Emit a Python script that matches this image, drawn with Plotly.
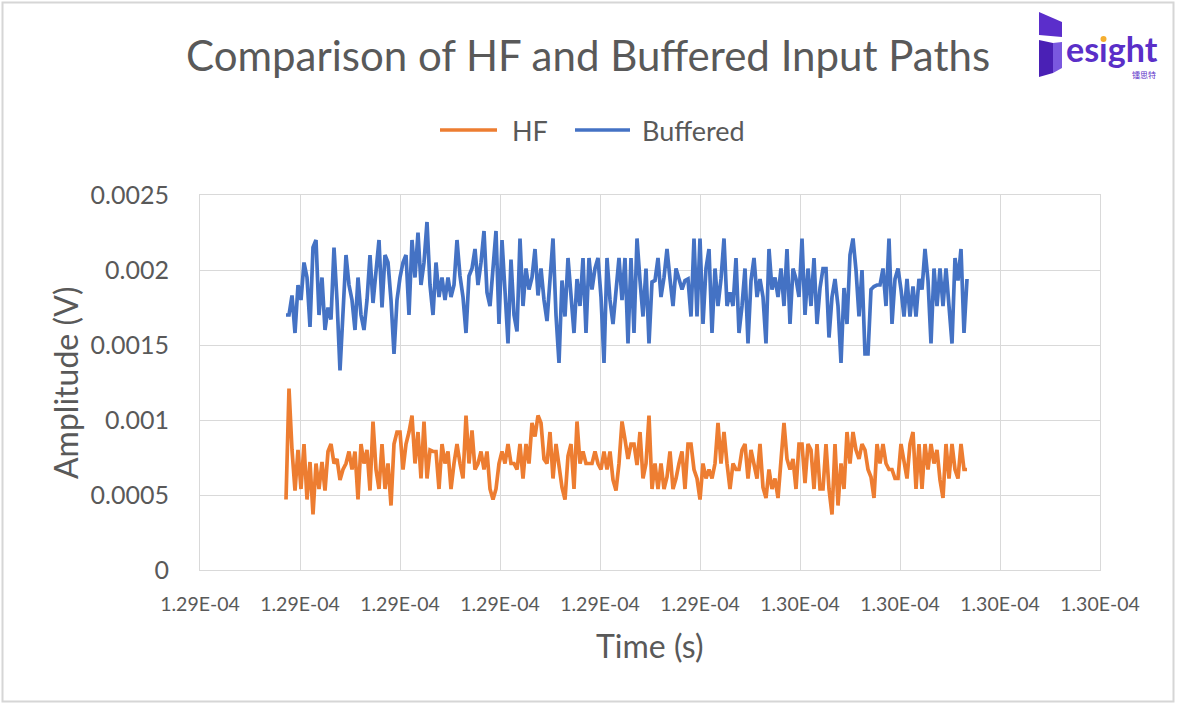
import plotly.graph_objects as go

# ---------------- data ----------------
t_start = 1.28986e-4      # s, first sample
t_step = 3e-9             # s, sample spacing

# amplitudes in units of 0.1 mV
buffered_01mV = [
    17, 17, 18.3, 15.8, 19, 18, 20.5, 19.5, 16.2, 21.5,
    22, 17, 19.5, 16, 17.5, 16.7, 21.5, 18, 13.3, 17,
    21, 19, 18, 16, 19.5, 17, 16, 18, 21, 17.8,
    20, 22, 17.5, 21, 20.5, 18, 14.4, 18, 19.5, 20.5,
    21, 17, 22, 19.5, 22.5, 19, 20.5, 23.2, 19, 17,
    20.5, 18.2, 19.5, 18, 19.5, 18.2, 19,
    22, 19.6, 18.2, 15.8, 19.6, 20.1, 21.4, 19, 20.5, 22.6,
    18.5, 17.6, 20.1, 22.6, 16.4, 22, 18.6, 15.1, 20.7, 17,
    15.9, 22.1, 17.6, 20.1, 18.7, 19.5, 21.4, 18.3, 20.1, 18,
    16.6, 19.5, 22.1, 17, 13.8, 19.3, 16.9, 20.8, 18.4, 15.8,
    19.4, 17.6, 20.8, 15.8, 20.8, 18.7, 20.1, 20.8, 18.2, 13.8,
    20.8, 18, 16.4, 18.7, 20.8, 18,
    20.8, 15.1, 20.8, 15.8, 22.1, 19.3, 16.9, 20.1, 15.1, 19.2,
    19.3, 20.8, 18.2, 19.5, 21.4, 19.4, 17.6, 20.1, 19.3, 18.7,
    19.3, 19.4, 16.9, 22.1, 16.9, 22.1, 16.4, 20.1, 21.4, 15.8,
    20.1, 17.6, 19.4, 22.1, 17.6, 18.5, 17.6, 20.8, 15.8, 17.6,
    20.1, 15.1, 19.3, 20.8, 18.2, 19.4, 18.2, 15.1, 21.4, 18.7,
    19.5, 18.2, 20.1, 17.6, 21.4, 16.4, 20.1,
    19.4, 18.2, 22.1, 17, 20.1, 17.6, 20.8, 16.4, 18.8, 20.1,
    20.1, 15.5, 18.2, 19.4, 17.6, 13.8, 18.8, 16.4, 21, 22.1,
    20, 16.9, 20, 14.4, 14.4, 18.7, 18.9, 19, 19, 20.1,
    17.6, 22.1, 16.4, 19.4, 20.1, 18.7, 16.9, 19.4, 16.9, 18.9,
    16.9, 19.4, 18.7, 21.4, 19.3, 15.1, 20.1, 17.6, 20.1, 17.6,
    20.1, 17.6, 15.1, 20.8, 19.3, 21.4, 15.8, 19.4,
]

hf_01mV = [
    4.7, 12.1, 8, 5.3, 8, 5.4, 8.4, 4.7, 7.2, 3.7,
    7.1, 5.4, 7.2, 5.3, 7.9, 8.4, 7.1, 7.4, 6, 6.7,
    7.1, 7.9, 6.7, 7.9, 4.7, 8.4, 7.1, 8, 5.3, 9.9,
    6.7, 5.4, 8.4, 5.4, 7.1, 4.3, 8.4, 9.2, 9.2, 6.7,
    8.4, 9.2, 10.3, 7.1, 9.2, 6.1, 9.9, 6.1, 8, 7.9,
    7.9, 5.4, 8.4, 7.1, 7.9, 5.4, 7.1,
    8.4, 7.1, 6.1, 10.3, 7.1, 9.3, 6.7, 7.1, 7.9, 6.7,
    7.9, 5.4, 4.7, 5.4, 7.1, 7.9, 7.1, 8.4, 7.1, 7.1,
    6.7, 8.4, 6.1, 8.4, 7.1, 9.8, 8.9, 10.3, 9.8, 7.4,
    7.1, 9.2, 6.1, 8.4, 7.1, 5.5, 4.7, 7.6, 8.4, 5.4,
    9.9, 7.1, 7.9, 7.1, 7.1, 7.1, 7.9, 7.1, 6.7, 7.9,
    6.7, 7.9, 6, 5.3, 7.1, 9.9,
    8.7, 7.4, 8.4, 8.4, 7, 9.2, 6.1, 7.1, 10.3, 5.4,
    7.1, 5.4, 7.1, 5.4, 6.2, 7.9, 5.4, 6.1, 7.1, 7.9,
    5.4, 8.4, 8.4, 6.7, 6.1, 4.7, 7.1, 6.1, 6.7, 6.1,
    7.1, 9.8, 7.1, 9.2, 7.1, 5.4, 7.1, 6.7, 6.7, 8,
    8.4, 6.1, 8, 7.1, 6.1, 8.4, 5.5, 4.8, 6.7, 5.4,
    6.1, 4.8, 7.1, 9.8, 7.4, 6.7, 7.4,
    5.4, 8.4, 8.4, 5.8, 8.4, 8, 5.4, 8.4, 5.4, 5.4,
    8.4, 5.4, 3.7, 8.4, 4.3, 7.1, 5.4, 9.2, 7.1, 9.2,
    8, 7.4, 8.4, 8, 6.7, 6.2, 4.8, 8.4, 7.1, 8.4,
    7.1, 6.7, 6.7, 6.1, 6.1, 8.4, 7.1, 6.1, 8.4, 9.2,
    5.4, 8.4, 5.4, 8.4, 6.7, 8.4, 7.1, 8, 6, 4.8,
    8.4, 6.1, 8.4, 6.7, 6.1, 8.4, 6.7, 6.7,
]

series_names = ["HF", "Buffered"]
x_tick_vals = [1.289e-4, 1.290e-4, 1.291e-4, 1.292e-4, 1.293e-4,
               1.294e-4, 1.295e-4, 1.296e-4, 1.297e-4, 1.298e-4]
x_tick_text = ["1.29E-04", "1.29E-04", "1.29E-04", "1.29E-04", "1.29E-04",
               "1.29E-04", "1.30E-04", "1.30E-04", "1.30E-04", "1.30E-04"]
y_tick_vals = [0, 0.0005, 0.001, 0.0015, 0.002, 0.0025]
y_tick_text = ["0", "0.0005", "0.001", "0.0015", "0.002", "0.0025"]

title_text = "Comparison of HF and Buffered Input Paths"
x_title = "Time (s)"
y_title = "Amplitude (V)"

# ---------------- style ----------------
ORANGE = "#ED7D31"
BLUE = "#4472C4"
GRID = "#D9D9D9"
TXT = "#595959"
FONT = "Lato"
PURPLE = "#5A2FC8"

W, H = 1185, 715
PL, PR, PT, PB = 200, 1100, 195, 570   # plot area in page pixels


def xp(px):
    return (px - PL) / (PR - PL)


def yp(py):
    return (PB - py) / (PB - PT)


hf = [v * 1e-4 for v in hf_01mV]
buf = [v * 1e-4 for v in buffered_01mV]

fig = go.Figure()
fig.add_trace(go.Scatter(x0=t_start, dx=t_step, y=hf, mode="lines", name=series_names[0],
                         line=dict(color=ORANGE, width=3.7), showlegend=False))
fig.add_trace(go.Scatter(x0=t_start, dx=t_step, y=buf, mode="lines", name=series_names[1],
                         line=dict(color=BLUE, width=3.7), showlegend=False))

fig.update_layout(
    width=W, height=H,
    margin=dict(l=PL, r=W - PR, t=PT, b=H - PB, pad=0),
    paper_bgcolor="white", plot_bgcolor="white",
    font=dict(family=FONT, color=TXT),
    showlegend=False,
)
fig.update_xaxes(range=[x_tick_vals[0], x_tick_vals[-1]], tickmode="array",
                 tickvals=x_tick_vals, ticktext=x_tick_text,
                 showgrid=True, gridcolor=GRID, gridwidth=1,
                 showline=True, linecolor=GRID, linewidth=1, mirror=True,
                 zeroline=False, ticks="outside", ticklen=17, tickcolor="rgba(0,0,0,0)",
                 tickfont=dict(size=19.5, color=TXT, family=FONT))
fig.update_yaxes(range=[0, 0.0025], tickmode="array",
                 tickvals=y_tick_vals, ticktext=y_tick_text,
                 showgrid=True, gridcolor=GRID, gridwidth=1,
                 showline=True, linecolor=GRID, linewidth=1, mirror=True,
                 zeroline=False, ticks="outside", ticklen=25, tickcolor="rgba(0,0,0,0)",
                 tickfont=dict(size=25, color=TXT, family=FONT))

ann = []
shapes = []
# title
ann.append(dict(text=title_text, x=xp(588), y=yp(55), xref="paper", yref="paper",
                showarrow=False, xanchor="center", yanchor="middle",
                font=dict(size=42, color=TXT, family=FONT)))
# axis titles
ann.append(dict(text=x_title, x=xp(650), y=yp(645), xref="paper", yref="paper",
                showarrow=False, xanchor="center", yanchor="middle",
                font=dict(size=32, color=TXT, family=FONT)))
ann.append(dict(text=y_title, x=xp(65), y=yp(383), xref="paper", yref="paper",
                showarrow=False, xanchor="center", yanchor="middle", textangle=-90,
                font=dict(size=32, color=TXT, family=FONT)))
# legend (manual)
for (x0, x1, tx, col, name) in [(440, 497, 510, ORANGE, series_names[0]),
                                (575, 630, 640, BLUE, series_names[1])]:
    shapes.append(dict(type="line", xref="paper", yref="paper",
                       x0=xp(x0), x1=xp(x1), y0=yp(130), y1=yp(130),
                       line=dict(color=col, width=3.7)))
    ann.append(dict(text=name, x=xp(tx), y=yp(130), xref="paper", yref="paper",
                    showarrow=False, xanchor="left", yanchor="middle",
                    font=dict(size=27, color=TXT, family=FONT)))

# chart border
shapes.append(dict(type="rect", xref="paper", yref="paper",
                   x0=xp(2.5), x1=xp(1173.5), y0=yp(2.5), y1=yp(701.5),
                   line=dict(color="#D6D6D6", width=2), fillcolor="rgba(0,0,0,0)", layer="below"))


# logo
def poly(pts, col):
    path = "M " + " L ".join(f"{xp(a)},{yp(b)}" for a, b in pts) + " Z"
    return dict(type="path", xref="paper", yref="paper", path=path,
                fillcolor=col, line=dict(width=0))


shapes.append(poly([(1039, 12), (1062, 22), (1062, 37), (1039, 35)], "#5B2ECB"))
shapes.append(poly([(1039, 40), (1053, 43), (1053, 73), (1039, 77)], "#4A20B5"))
shapes.append(poly([(1053, 43), (1062, 42), (1062, 68), (1053, 73)], "#7A58DF"))
ann.append(dict(text="<b>es\u0131ght</b>", x=xp(1064), y=yp(71), xref="paper", yref="paper",
                showarrow=False, xanchor="left", yanchor="bottom",
                font=dict(size=34, color=PURPLE, family="Lato")))
shapes.append(dict(type="circle", xref="paper", yref="paper",
                   x0=xp(1100.5), x1=xp(1106.5), y0=yp(36), y1=yp(42),
                   fillcolor="#F5AE2F", line=dict(width=0)))
ann.append(dict(text="镭思特", x=xp(1144), y=yp(74), xref="paper", yref="paper",
                showarrow=False, xanchor="center", yanchor="middle",
                font=dict(size=8, color=PURPLE, family="Noto Sans CJK SC")))

fig.update_layout(annotations=ann, shapes=shapes)
fig.write_html("out.html", config={"displayModeBar": False},
               post_script="document.body.style.margin='0px';")
